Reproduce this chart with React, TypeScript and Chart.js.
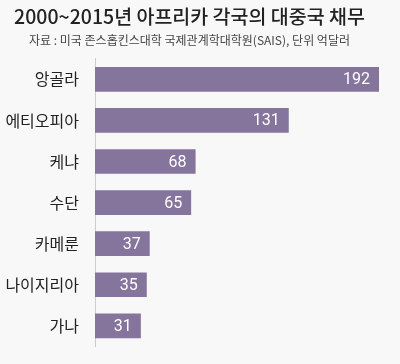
import React, { useEffect, useRef } from "react";
import { Chart, registerables } from "chart.js";

Chart.register(...registerables);

const countries = ["앙골라", "에티오피아", "케냐", "수단", "카메룬", "나이지리아", "가나"];
const debts = [192, 131, 68, 65, 37, 35, 31];
const titleText = "2000~2015년 아프리카 각국의 대중국 채무";
const subtitleText = "자료 : 미국 존스홉킨스대학 국제관계학대학원(SAIS), 단위 억달러";

const KR = '"Noto Sans CJK KR", "Noto Sans", sans-serif';

const bgPlugin = {
  id: "bg",
  beforeDraw(chart: any) {
    const ctx = chart.ctx;
    ctx.save();
    ctx.fillStyle = "#f8f8f8";
    ctx.fillRect(0, 0, chart.width, chart.height);
    ctx.restore();
  },
};

const valuePlugin = {
  id: "values",
  afterDatasetsDraw(chart: any) {
    const ctx = chart.ctx;
    const meta = chart.getDatasetMeta(0);
    ctx.save();
    ctx.fillStyle = "#ffffff";
    ctx.font = '16px Roboto, "Noto Sans", sans-serif';
    ctx.textAlign = "right";
    ctx.textBaseline = "middle";
    meta.data.forEach((bar: any, i: number) => {
      ctx.fillText(String(debts[i]), bar.x - 9, bar.y + 1);
    });
    ctx.restore();
  },
};

export default function App() {
  const ref = useRef<HTMLCanvasElement>(null);
  useEffect(() => {
    document.body.style.margin = "0";
    document.body.style.background = "#f8f8f8";
    const chart = new Chart(ref.current!, {
      type: "bar",
      data: {
        labels: countries,
        datasets: [
          {
            data: debts,
            backgroundColor: "#85759d",
            categoryPercentage: 0.6,
            barPercentage: 1,
          },
        ],
      },
      options: {
        indexAxis: "y",
        animation: false,
        responsive: false,
        layout: { padding: { left: 0, right: 21, top: 0, bottom: 12 } },
        plugins: {
          legend: { display: false },
          tooltip: { enabled: false },
          title: {
            display: true,
            text: titleText,
            color: "#222222",
            font: { family: KR, size: 19.5, weight: "500" },
            padding: { top: 5, bottom: 5 },
          },
          subtitle: {
            display: true,
            text: subtitleText,
            color: "#444444",
            font: { family: KR, size: 12, weight: "normal" },
            padding: { top: 0, bottom: 11 },
          },
        },
        scales: {
          x: {
            display: false,
            min: 0,
            max: 192,
          },
          y: {
            grid: { display: false },
            border: { display: true, color: "#c5ced8", width: 1 },
            ticks: {
              color: "#222222",
              font: { family: KR, size: 16 },
              padding: 8,
            },
            afterFit(scale: any) {
              scale.width = 95;
            },
          },
        },
      },
      plugins: [bgPlugin, valuePlugin],
    });
    return () => chart.destroy();
  }, []);
  return <canvas ref={ref} width={400} height={364} style={{ display: "block" }} />;
}
